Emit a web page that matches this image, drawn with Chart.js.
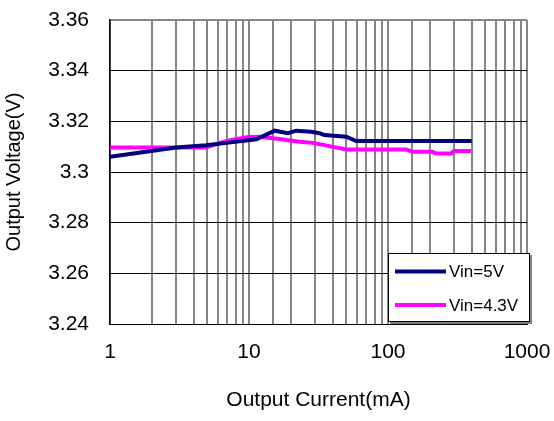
<!DOCTYPE html>
<html>
<head>
<meta charset="utf-8">
<script src="https://cdn.jsdelivr.net/npm/chart.js@4/dist/chart.umd.min.js"></script>
<style>
  body { margin: 0; background: #fff; }
  canvas { display: block; }
</style>
</head>
<body>
<canvas id="chart" width="554" height="421"></canvas>
<script>
// load regulation, output current (mA) vs output voltage (V)
const current5V = [1, 3, 4.9, 6.9, 11.3, 15.3, 19, 21.9, 28, 32.2, 35, 50, 59, 100, 200, 400];
const volt5V = [3.3060, 3.3097, 3.3106, 3.3115, 3.3129, 3.3163, 3.3153, 3.3163, 3.3159, 3.3153, 3.3146, 3.3139, 3.3122, 3.3122, 3.3122, 3.3122];

const current43V = [1, 2, 3, 4.9, 6.9, 9.6, 11.9, 16.6, 23.1, 28.8, 34.9, 50, 100, 135, 150, 209, 221, 284, 299, 395];
const volt43V = [3.3097, 3.3097, 3.3097, 3.3097, 3.3123, 3.3137, 3.3139, 3.3130, 3.3119, 3.3115, 3.3106, 3.3089, 3.3089, 3.3089, 3.3080, 3.3080, 3.3073, 3.3073, 3.3083, 3.3083];

const seriesLabels = ["Vin=5V", "Vin=4.3V"];
const seriesColors = ["#000080", "#ff00ff"];

const xTicks = [1, 10, 100, 1000];
const yMin = 3.24, yMax = 3.36, yStep = 0.02;

function toPoints(xs, ys) {
  return xs.map((x, i) => ({ x: x, y: ys[i] }));
}

// boxed legend in the lower right corner of the plot
const boxLegend = {
  id: "boxLegend",
  afterDraw(chart) {
    const { ctx, chartArea } = chart;
    const right = chartArea.right + 3;
    const bottom = chartArea.bottom - 2;
    const left = right - 142;
    const top = bottom - 69;

    ctx.save();
    ctx.fillStyle = "#808080";
    ctx.fillRect(left + 2, top + 2, right - left, bottom - top);
    ctx.fillStyle = "#fff";
    ctx.fillRect(left, top, right - left, bottom - top);
    ctx.strokeStyle = "#000";
    ctx.lineWidth = 1;
    ctx.strokeRect(left + 0.5, top + 0.5, right - left - 1, bottom - top - 1);

    ctx.font = "17px 'Liberation Sans', Arial, sans-serif";
    ctx.textBaseline = "middle";
    ctx.textAlign = "left";
    chart.data.datasets.forEach((ds, i) => {
      const y = top + 18.5 + i * 33.5;
      ctx.strokeStyle = ds.borderColor;
      ctx.lineWidth = 4;
      ctx.beginPath();
      ctx.moveTo(left + 7, y);
      ctx.lineTo(left + 58, y);
      ctx.stroke();
      ctx.fillStyle = "#000";
      ctx.fillText(ds.label, left + 61, y + 1);
    });
    ctx.restore();
  }
};

const tickFont = { family: "'Liberation Sans', Arial, sans-serif", size: 21 };

new Chart(document.getElementById("chart"), {
  type: "scatter",
  data: {
    datasets: [
      {
        label: seriesLabels[0],
        data: toPoints(current5V, volt5V),
        borderColor: seriesColors[0],
        backgroundColor: seriesColors[0],
        showLine: true,
        borderWidth: 4,
        pointRadius: 0,
        tension: 0
      },
      {
        label: seriesLabels[1],
        data: toPoints(current43V, volt43V),
        borderColor: seriesColors[1],
        backgroundColor: seriesColors[1],
        showLine: true,
        borderWidth: 4,
        pointRadius: 0,
        tension: 0
      }
    ]
  },
  options: {
    responsive: false,
    animation: false,
    layout: { padding: { top: 20, right: 27, bottom: 0, left: 0 } },
    plugins: {
      legend: { display: false },
      tooltip: { enabled: false }
    },
    scales: {
      x: {
        type: "logarithmic",
        min: xTicks[0],
        max: xTicks[xTicks.length - 1],
        afterFit(scale) {
          scale.height = 97;
          scale.paddingLeft = 0;
          scale.paddingRight = 0;
        },
        border: { color: "#000", width: 1 },
        grid: { color: "#858585", lineWidth: 2, drawTicks: false },
        ticks: {
          autoSkip: false,
          maxRotation: 0,
          padding: 16,
          color: "#000",
          font: tickFont,
          callback: v => xTicks.includes(v) ? String(v) : ""
        },
        title: {
          display: true,
          text: "Output Current(mA)",
          color: "#000",
          font: tickFont,
          padding: { top: 0, bottom: 8 }
        }
      },
      y: {
        min: yMin,
        max: yMax,
        afterFit(scale) {
          scale.width = 110;
          scale.paddingTop = 0;
          scale.paddingBottom = 0;
        },
        border: { color: "#000", width: 1.5 },
        grid: {
          color: c => c.tick && Math.abs(c.tick.value - yMax) < 1e-6 ? "#858585" : "#000",
          lineWidth: c => c.tick && Math.abs(c.tick.value - yMax) < 1e-6 ? 2 : 1,
          drawTicks: false
        },
        ticks: {
          stepSize: yStep,
          padding: 21,
          color: "#000",
          font: tickFont,
          callback: v => String(Number(v.toFixed(2)))
        },
        title: {
          display: true,
          text: "Output Voltage(V)",
          color: "#000",
          font: { family: "'Liberation Sans', Arial, sans-serif", size: 20 },
          padding: { top: 2, bottom: 0 }
        }
      }
    }
  },
  plugins: [boxLegend]
});
</script>
</body>
</html>
